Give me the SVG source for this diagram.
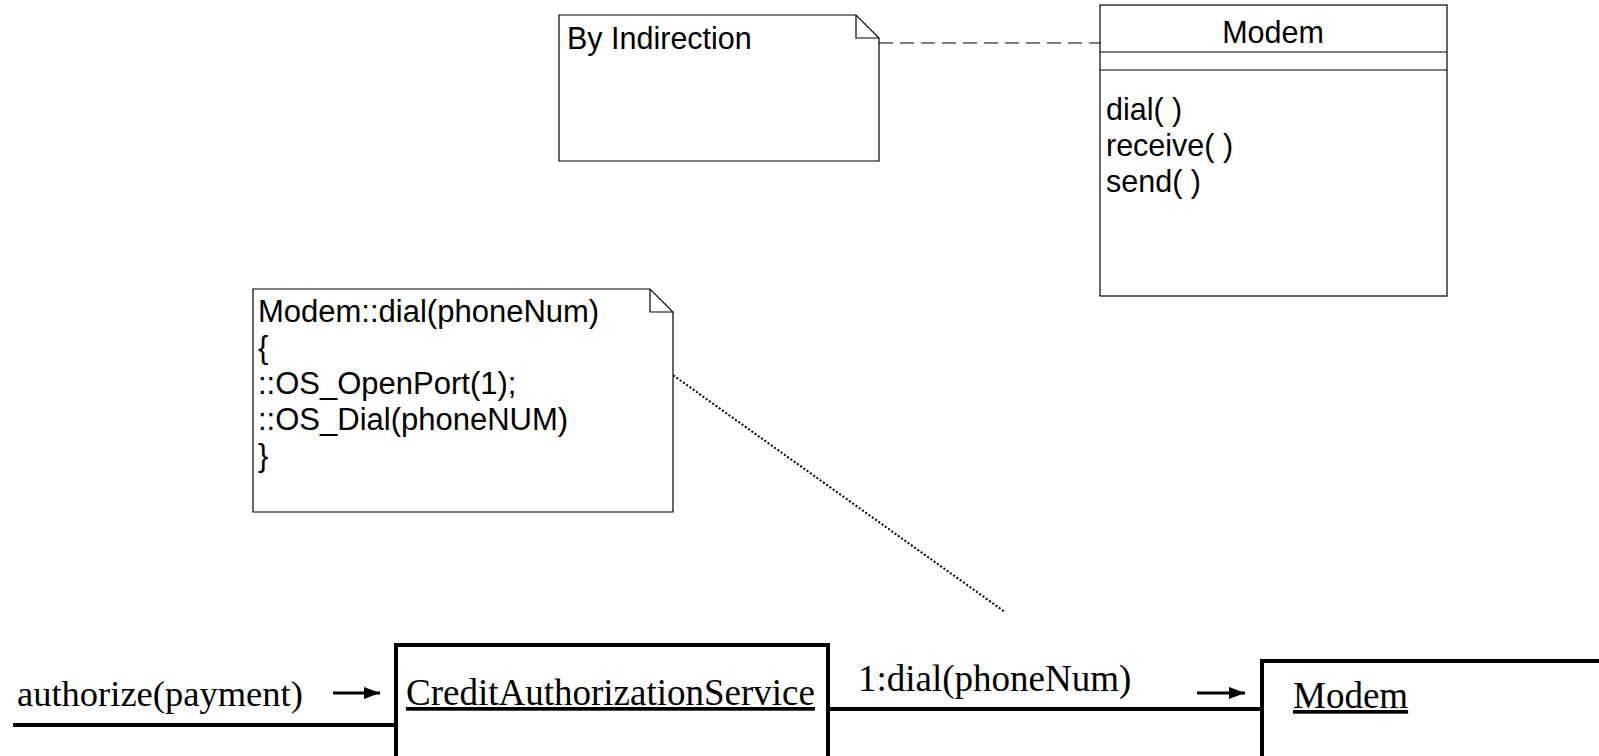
<svg xmlns="http://www.w3.org/2000/svg" width="1599" height="756" viewBox="0 0 1599 756">
<defs>
<style>
.note{fill:#fff;stroke:#000;stroke-width:1.2}
.thin{fill:none;stroke:#000;stroke-width:1.2}
.sans{font-family:"Liberation Sans",Arial,sans-serif;fill:#000}
.serif{font-family:"Liberation Serif","Times New Roman",serif;fill:#000}
.box{fill:#fff;stroke:#000;stroke-width:4}
.link{fill:none;stroke:#000;stroke-width:4}
</style>
<marker id="ah" markerWidth="16" markerHeight="12" refX="16" refY="6" orient="auto" markerUnits="userSpaceOnUse">
<path d="M0,0 L16,6 L0,12 Z" fill="#000"/>
</marker>
</defs>
<rect width="1599" height="756" fill="#fff"/>

<g id="connectors">
<path d="M879,43 H1100" fill="none" stroke="#000" stroke-width="1.2" stroke-dasharray="14,7"/>
<path d="M670,373 L1005,612" fill="none" stroke="#000" stroke-width="2" stroke-dasharray="2,2"/>
<path class="link" d="M13,725 H396"/>
<path class="link" d="M828,709 H1262"/>
<path d="M333,693 H380" stroke="#000" stroke-width="3" marker-end="url(#ah)"/>
<path d="M1197,693 H1245" stroke="#000" stroke-width="3" marker-end="url(#ah)"/>
</g>

<g id="note-indirection">
<path class="note" d="M559,15 H856 L879,38 V161 H559 Z"/>
<path class="thin" d="M856,15 V38 H879"/>
<text class="sans" x="567" y="49" font-size="30.5">By Indirection</text>
</g>

<g id="class-modem">
<rect x="1100" y="5" width="347" height="291" fill="#fff" stroke="#000" stroke-width="1.2"/>
<path class="thin" d="M1100,52 H1447 M1100,70 H1447"/>
<text class="sans" x="1273" y="43" font-size="30.5" text-anchor="middle">Modem</text>
<text class="sans" x="1106" y="120" font-size="30.5">dial( )</text>
<text class="sans" x="1106" y="156" font-size="30.5">receive( )</text>
<text class="sans" x="1106" y="192" font-size="30.5">send( )</text>
</g>

<g id="note-code">
<path class="note" d="M253,289 H650 L673,312 V512 H253 Z"/>
<path class="thin" d="M650,289 V312 H673"/>
<text class="sans" font-size="31">
<tspan x="258" y="322">Modem::dial(phoneNum)</tspan>
<tspan x="258" y="358">{</tspan>
<tspan x="258" y="394">::OS_OpenPort(1);</tspan>
<tspan x="258" y="430">::OS_Dial(phoneNUM)</tspan>
<tspan x="258" y="466">}</tspan>
</text>
</g>

<g id="label-authorize">
<text class="serif" x="17" y="706" font-size="36.5">authorize(payment)</text>
</g>

<g id="obj-cas">
<rect class="box" x="396" y="645" width="432" height="113"/>
<text class="serif" x="406" y="705" font-size="37" text-decoration="underline">CreditAuthorizationService</text>
</g>

<g id="label-dial">
<text class="serif" x="858" y="691" font-size="37">1:dial(phoneNum)</text>
</g>

<g id="obj-modem">
<rect class="box" x="1262" y="661" width="360" height="97"/>
<text class="serif" x="1293" y="708" font-size="37" text-decoration="underline">Modem</text>
</g>
</svg>
